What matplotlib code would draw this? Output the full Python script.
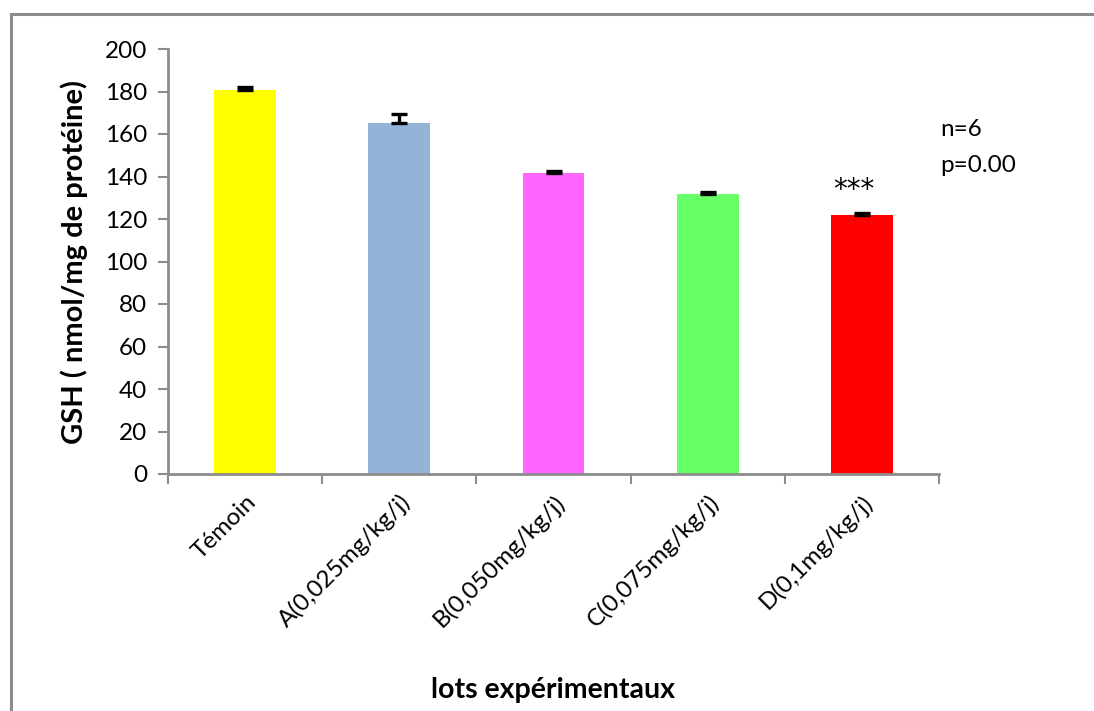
import matplotlib
matplotlib.use("Agg")
import matplotlib.pyplot as plt
from matplotlib.lines import Line2D

plt.rcParams['font.family'] = ['Lato', 'DejaVu Sans']

categories = ["Témoin", "A(0,025mg/kg/j)", "B(0,050mg/kg/j)",
              "C(0,075mg/kg/j)", "D(0,1mg/kg/j)"]
gsh_means = [180.8, 165.2, 141.6, 131.8, 121.8]
gsh_errors = [1.5, 4.0, 1.2, 1.0, 1.0]
bar_colors = ["#FFFF00", "#95B3D7", "#FF66FF", "#66FF66", "#FF0000"]
y_ticks = [0, 20, 40, 60, 80, 100, 120, 140, 160, 180, 200]

W, H = 1094, 711
fig = plt.figure(figsize=(W / 100, H / 100), dpi=100)

# outer chart frame: only its top and left edges fall inside the image
frame_kw = dict(transform=fig.transFigure, color="#8c8c8c", linewidth=2.2)
fig.add_artist(Line2D([10.5 / W, 1.0], [1 - 13.5 / H, 1 - 13.5 / H], **frame_kw))
fig.add_artist(Line2D([10.5 / W, 10.5 / W], [0.0, 1 - 13.5 / H], **frame_kw))

ax = fig.add_axes([168 / W, 1 - 474 / H, (939 - 168) / W, (474 - 49) / H])
x = list(range(len(categories)))
ax.bar(x, gsh_means, width=0.4, color=bar_colors, zorder=2,
       yerr=[[0] * len(gsh_errors), gsh_errors],
       error_kw=dict(ecolor="black", elinewidth=2.4, capsize=6, capthick=2.4))

ax.set_xlim(-0.5, len(categories) - 0.5)
ax.set_ylim(0, 200)
ax.set_yticks(y_ticks)
ax.tick_params(axis='y', labelsize=17.5, length=7, width=1.5, color="#8c8c8c", pad=8)

ax.set_xticks([i - 0.5 for i in range(len(categories) + 1)], minor=False)
ax.set_xticklabels([])
ax.tick_params(axis='x', length=7, width=1.5, color="#8c8c8c")
ax.set_xticks(x, minor=True)
ax.set_xticklabels(categories, minor=True, rotation=45, ha='right',
                   rotation_mode='anchor', fontsize=17.5)
ax.tick_params(axis='x', which='minor', length=0, pad=12)

for side in ("top", "right"):
    ax.spines[side].set_visible(False)
for side in ("left", "bottom"):
    ax.spines[side].set_color("#8c8c8c")
    ax.spines[side].set_linewidth(2)

ax.set_ylabel("GSH ( nmol/mg de protéine)", fontsize=21, fontweight='bold',
              labelpad=12)
fig.text(553 / W, 1 - 690 / H, "lots expérimentaux", fontsize=20.5,
         fontweight='bold', ha='center', va='center')

ax.text(3.95, 133.5, "***", ha='center', va='center', fontsize=20,
        family='DejaVu Sans')
fig.text(940 / W, 1 - 130 / H, "n=6", fontsize=17.5, va='center')
fig.text(940 / W, 1 - 166 / H, "p=0.00", fontsize=17.5, va='center')

fig.savefig("out.png", dpi=100)
